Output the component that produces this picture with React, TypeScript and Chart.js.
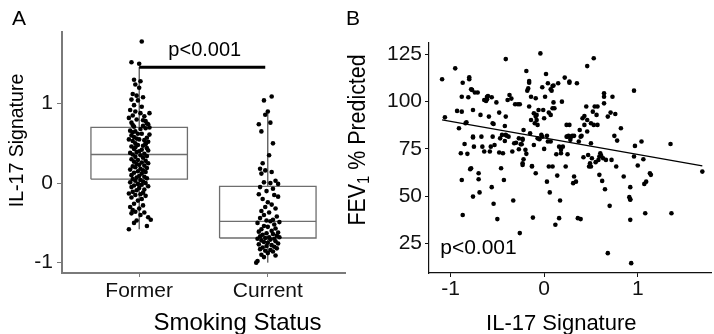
import React, { useEffect, useRef } from "react";
import { Chart, registerables } from "chart.js";

Chart.register(...registerables);

const FONT = '"Liberation Sans", Arial, Helvetica, sans-serif';

// ---------------- Panel A: IL-17 signature by smoking status ----------------
const categories = ["Former", "Current"];
const whiskerLow = [-0.58, -1.0];
const quartile1 = [0.05, -0.69];
const medians = [0.36, -0.48];
const quartile3 = [0.7, -0.04];
const whiskerHigh = [1.46, 0.9];
const boxHalfWidth = 0.375;

// [jitter offset, IL-17 signature]
const formerJitter: [number, number][] = [
  [0.02, 1.78], [-0.06, 1.52], [0.0, 1.5],
  [-0.04, 1.3], [0.01, 1.28], [-0.03, 1.24], [0.0, 1.2],
  [-0.05, 1.12], [-0.02, 1.1], [0.03, 1.08], [-0.06, 1.05], [-0.01, 1.04],
  [-0.04, 0.98], [0.02, 0.96], [-0.07, 0.92], [-0.03, 0.9], [0.01, 0.88], [-0.05, 0.85], [0.04, 0.84],
  [-0.02, 0.8], [0.05, 0.78], [-0.06, 0.76], [0.06, 0.75], [0.07, 0.74], [0.03, 0.72], [-0.04, 0.71], [0.08, 0.7], [0.05, 0.69],
  [-0.07, 0.66], [-0.03, 0.65], [-0.05, 0.64], [-0.01, 0.62], [0.02, 0.62], [-0.06, 0.6], [-0.04, 0.58], [0.06, 0.57], [-0.02, 0.56], [0.0, 0.55],
  [0.04, 0.54], [-0.05, 0.53], [0.07, 0.52], [-0.03, 0.5], [0.05, 0.5], [-0.01, 0.48], [0.03, 0.47], [-0.06, 0.46], [0.06, 0.44], [-0.04, 0.43], [0.02, 0.42],
  [0.0, 0.4], [-0.02, 0.39], [-0.07, 0.38], [0.04, 0.37], [-0.05, 0.36], [0.01, 0.35], [0.06, 0.34], [-0.03, 0.33], [0.03, 0.32],
  [-0.06, 0.3], [-0.01, 0.29], [0.05, 0.28], [-0.04, 0.27], [0.02, 0.26], [0.07, 0.25], [-0.02, 0.24], [0.0, 0.23], [0.04, 0.22], [-0.05, 0.21],
  [-0.03, 0.2], [0.06, 0.19], [0.01, 0.18], [-0.07, 0.17], [0.03, 0.16], [-0.01, 0.15], [0.05, 0.14], [-0.04, 0.13], [0.02, 0.12],
  [-0.06, 0.1], [0.0, 0.09], [0.04, 0.08], [-0.02, 0.07], [0.06, 0.06], [-0.05, 0.05], [0.01, 0.04], [-0.03, 0.03], [0.03, 0.02], [-0.07, 0.01],
  [0.05, 0.0], [-0.01, -0.01], [0.02, -0.02], [-0.04, -0.03], [0.07, -0.04], [-0.06, -0.05], [0.0, -0.06], [0.04, -0.08], [-0.02, -0.09],
  [-0.05, -0.11], [0.03, -0.12], [-0.08, -0.13], [0.01, -0.14], [-0.03, -0.15], [0.05, -0.16], [-0.06, -0.18], [0.02, -0.2], [-0.01, -0.22],
  [-0.04, -0.26], [0.03, -0.28], [-0.07, -0.3], [0.0, -0.32], [-0.05, -0.34], [-0.03, -0.36], [0.04, -0.37], [-0.06, -0.38], [0.01, -0.4],
  [0.07, -0.43], [0.09, -0.46], [-0.02, -0.47], [-0.04, -0.5], [0.06, -0.54], [-0.08, -0.58],
  [0.08, 0.88], [-0.08, 0.82], [0.03, 0.79], [-0.05, 0.73], [0.01, 0.68], [0.08, 0.61], [-0.08, 0.55], [0.05, 0.49], [-0.03, 0.45], [0.07, 0.41],
];

const currentJitter: [number, number][] = [
  [0.03, 1.09], [-0.03, 1.04], [0.0, 0.9], [-0.02, 0.86], [0.02, 0.76], [-0.07, 0.74], [-0.05, 0.65], [0.04, 0.5], [0.01, 0.35],
  [-0.04, 0.25], [-0.06, 0.18], [-0.02, 0.16], [0.03, 0.14], [-0.05, 0.12], [0.06, 0.03], [-0.03, 0.01], [0.02, 0.0], [0.08, -0.01],
  [-0.06, -0.05], [0.04, -0.07], [-0.01, -0.1], [-0.07, -0.14], [0.05, -0.15], [0.08, -0.17], [-0.04, -0.2], [0.0, -0.24], [0.03, -0.27],
  [-0.02, -0.3], [0.06, -0.32], [-0.05, -0.35], [0.01, -0.37], [-0.03, -0.4], [0.07, -0.42], [-0.06, -0.44], [0.04, -0.46], [-0.01, -0.47], [0.02, -0.48], [0.09, -0.49], [-0.08, -0.5],
  [0.05, -0.52], [-0.03, -0.54], [0.0, -0.55], [0.06, -0.57], [-0.05, -0.58], [0.03, -0.6], [-0.07, -0.61], [0.08, -0.62], [-0.01, -0.63], [0.04, -0.64],
  [-0.04, -0.65], [0.07, -0.66], [-0.06, -0.67], [0.01, -0.68], [0.09, -0.68], [-0.02, -0.69], [0.05, -0.7], [-0.08, -0.7], [0.02, -0.71], [-0.05, -0.72],
  [0.06, -0.73], [-0.03, -0.74], [0.0, -0.75], [0.08, -0.76], [-0.07, -0.77], [0.03, -0.78], [-0.01, -0.79], [0.05, -0.8], [-0.04, -0.81], [0.07, -0.82],
  [-0.06, -0.83], [0.02, -0.84], [-0.02, -0.85], [0.04, -0.86], [0.0, -0.88], [-0.05, -0.9], [0.06, -0.91], [-0.03, -0.93], [-0.08, -0.98], [-0.09, -1.0],
];

const sigBarY = 1.457;
const sigBarFrom = 1;
const sigBarTo = 1.98;
const pValueText = "p<0.001";
const pValueAX = 1.51;
const pValueAY = 1.6;
const aYTicks = [-1, 0, 1];
const aXTicks = [1, 2];
const aYMin = -1.13;
const aYMax = 1.9;
const aXMin = 0.4;
const aXMax = 2.6;
const aXTitle = "Smoking Status";
const aYTitle = "IL-17 Signature";

// ---------------- Panel B: FEV1 vs IL-17 signature ----------------
// [IL-17 signature, FEV1 % predicted]
const fevPoints: [number, number][] = [
  [-1.09, 111.8], [-1.06, 91.7], [-0.95, 117.6], [-0.93, 95.1], [-0.91, 85.9], [-0.88, 94.7], [-0.89, 72.7], [-0.88, 102.6],
  [-0.87, 110.0], [-0.88, 58.6], [-0.87, 40.1], [-0.85, 77.6], [-0.84, 88.6], [-0.83, 89.1], [-0.82, 72.4], [-0.81, 102.3],
  [-0.8, 111.8], [-0.8, 112.9], [-0.79, 64.3], [-0.78, 64.8], [-0.78, 106.5], [-0.77, 106.2], [-0.76, 95.6], [-0.76, 81.0],
  [-0.76, 81.5], [-0.75, 76.2], [-0.74, 104.8], [-0.71, 104.8], [-0.7, 62.1], [-0.7, 59.0], [-0.76, 49.8], [-0.69, 52.0],
  [-0.68, 93.0], [-0.67, 81.5], [-0.66, 76.2], [-0.64, 73.6], [-0.64, 100.9], [-0.63, 100.9], [-0.62, 100.4], [-0.61, 101.2],
  [-0.61, 102.6], [-0.6, 103.0], [-0.59, 92.1], [-0.58, 73.6], [-0.57, 76.2], [-0.56, 102.3], [-0.56, 54.8], [-0.55, 81.5],
  [-0.55, 88.6], [-0.54, 88.2], [-0.54, 46.0], [-0.53, 77.1], [-0.51, 99.6], [-0.5, 37.9], [-0.48, 73.1], [-0.48, 94.2],
  [-0.47, 80.6], [-0.46, 64.8], [-0.45, 82.4], [-0.44, 72.7], [-0.43, 58.6], [-0.42, 79.2], [-0.42, 87.1], [-0.41, 92.1],
  [-0.41, 122.5], [-0.41, 82.4], [-0.4, 82.0], [-0.39, 100.9], [-0.38, 81.5], [-0.37, 103.5], [-0.35, 101.6], [-0.34, 73.6],
  [-0.33, 47.7], [-0.32, 78.0], [-0.31, 98.6], [-0.3, 78.3], [-0.28, 98.6], [-0.27, 74.8], [-0.27, 80.6], [-0.26, 98.6],
  [-0.26, 30.5], [-0.25, 77.5], [-0.24, 77.5], [-0.23, 80.3], [-0.23, 67.4], [-0.23, 66.5], [-0.23, 79.8], [-0.22, 69.5],
  [-0.22, 85.0], [-0.2, 74.5], [-0.19, 72.4], [-0.19, 116.2], [-0.18, 105.8], [-0.17, 107.0], [-0.16, 110.9], [-0.16, 110.0],
  [-0.16, 97.4], [-0.15, 83.3], [-0.14, 90.3], [-0.14, 102.6], [-0.13, 65.7], [-0.13, 66.0], [-0.12, 38.7], [-0.11, 93.8],
  [-0.11, 77.1], [-0.1, 88.6], [-0.09, 92.1], [-0.09, 101.8], [-0.09, 62.1], [-0.08, 93.0], [-0.08, 90.3], [-0.07, 87.7],
  [-0.07, 80.6], [-0.06, 95.6], [-0.05, 80.1], [-0.04, 125.5], [-0.03, 82.4], [-0.02, 107.6], [-0.02, 81.5], [-0.01, 95.6],
  [0.0, 75.0], [0.0, 91.2], [0.01, 102.6], [0.02, 114.6], [0.03, 57.7], [0.03, 81.9], [0.04, 109.7], [0.04, 78.9],
  [0.05, 94.2], [0.05, 65.7], [0.06, 52.0], [0.07, 78.9], [0.07, 93.0], [0.07, 106.5], [0.08, 105.8], [0.09, 108.3],
  [0.09, 65.7], [0.09, 96.5], [0.1, 108.5], [0.1, 99.6], [0.11, 96.5], [0.12, 34.9], [0.13, 72.2], [0.14, 60.9],
  [0.15, 109.7], [0.16, 76.2], [0.16, 38.4], [0.17, 47.7], [0.18, 74.5], [0.18, 72.7], [0.19, 100.0], [0.2, 76.2],
  [0.22, 112.7], [0.23, 65.7], [0.24, 81.5], [0.24, 87.7], [0.25, 72.2], [0.25, 81.5], [0.26, 81.9], [0.27, 110.6],
  [0.27, 110.0], [0.27, 87.7], [0.28, 79.8], [0.29, 81.5], [0.3, 81.9], [0.31, 56.9], [0.32, 81.9], [0.32, 60.4],
  [0.34, 57.7], [0.35, 109.7], [0.36, 38.4], [0.37, 78.9], [0.38, 85.0], [0.39, 37.9], [0.39, 81.5], [0.4, 81.9],
  [0.41, 91.2], [0.42, 70.6], [0.43, 87.7], [0.43, 92.4], [0.45, 97.4], [0.46, 118.8], [0.46, 84.2], [0.46, 90.3],
  [0.47, 71.8], [0.48, 65.7], [0.49, 67.4], [0.5, 65.7], [0.5, 78.0], [0.5, 88.6], [0.51, 70.1], [0.52, 94.7],
  [0.53, 87.7], [0.53, 122.9], [0.54, 97.4], [0.55, 68.0], [0.56, 93.0], [0.57, 87.7], [0.57, 97.4], [0.58, 69.2],
  [0.59, 71.0], [0.59, 61.3], [0.6, 72.7], [0.61, 71.3], [0.62, 58.1], [0.63, 70.1], [0.64, 104.4], [0.64, 99.1],
  [0.64, 102.6], [0.65, 53.7], [0.66, 69.2], [0.68, 92.1], [0.68, 19.9], [0.7, 44.9], [0.71, 94.2], [0.72, 69.2],
  [0.73, 102.6], [0.75, 81.9], [0.76, 93.5], [0.77, 65.7], [0.78, 79.4], [0.82, 85.9], [0.85, 60.4], [0.92, 54.8],
  [0.91, 49.5], [0.92, 48.4], [0.92, 48.1], [0.92, 37.5], [0.93, 14.6], [0.96, 105.8], [0.96, 71.0], [0.97, 76.6],
  [1.0, 66.2], [1.04, 78.9], [1.06, 69.5], [1.07, 56.5], [1.08, 41.0], [1.09, 57.7], [1.13, 62.1], [1.14, 61.3],
  [1.35, 77.6], [1.36, 41.0], [1.69, 63.0],
];
const trendX = [-1.09, 1.69];
const trendY = [90.3, 66.0];
const bXTicks = [-1, 0, 1];
const bYTicks = [25, 50, 75, 100, 125];
const bXMin = -1.23;
const bXMax = 1.79;
const bYMin = 9.4;
const bYMax = 131;
const pValueBX = -1.11;
const pValueBY = 19.5;
const bXTitle = "IL-17 Signature";
const bYTitleMain = "FEV";
const bYTitleSub = "1";
const bYTitleRest = " % Predicted";
const panelLabels = ["A", "B"];

type ScaleOpts = {
  min: number;
  max: number;
  ticks: number[];
  width?: number;
  height?: number;
  lineColor: string;
  lineWidth: number;
  tickLen: number;
  pad: number;
  size: number;
  labels?: string[];
};

function makeScale(o: ScaleOpts): any {
  return {
    type: "linear",
    min: o.min,
    max: o.max,
    afterBuildTicks: (s: any) => {
      s.ticks = o.ticks.map((v) => ({ value: v }));
    },
    afterFit: (s: any) => {
      if (o.width != null) s.width = o.width;
      if (o.height != null) s.height = o.height;
    },
    grid: {
      display: true,
      drawOnChartArea: false,
      drawTicks: true,
      tickLength: o.tickLen,
      color: o.lineColor,
      tickColor: o.lineColor,
      lineWidth: 1,
    },
    border: { display: true, color: o.lineColor, width: o.lineWidth },
    ticks: {
      autoSkip: false,
      maxRotation: 0,
      minRotation: 0,
      padding: o.pad,
      color: "#111",
      font: { family: FONT, size: o.size },
      callback: (v: number) => (o.labels ? o.labels[Math.round(v) - 1] : String(v)),
    },
    title: { display: false },
  };
}

const lineDs = (pts: { x: number; y: number }[], color: string, width: number, order: number) => ({
  type: "scatter" as const,
  data: pts,
  showLine: true,
  borderColor: color,
  borderWidth: width,
  pointRadius: 0,
  pointHoverRadius: 0,
  tension: 0,
  fill: false,
  order,
});

function buildPanelA(canvas: HTMLCanvasElement) {
  const pts = [
    ...formerJitter.map(([dx, v]) => ({ x: 1 + dx, y: v })),
    ...currentJitter.map(([dx, v]) => ({ x: 2 + dx, y: v })),
  ];
  const boxSets: any[] = [];
  categories.forEach((_, i) => {
    const c = i + 1;
    const l = c - boxHalfWidth;
    const r = c + boxHalfWidth;
    boxSets.push(
      lineDs(
        [
          { x: l, y: quartile1[i] },
          { x: r, y: quartile1[i] },
          { x: r, y: quartile3[i] },
          { x: l, y: quartile3[i] },
          { x: l, y: quartile1[i] },
        ],
        "#6e6e6e",
        1.3,
        3
      )
    );
    boxSets.push(lineDs([{ x: l, y: medians[i] }, { x: r, y: medians[i] }], "#6e6e6e", 1.3, 3));
    boxSets.push(lineDs([{ x: c, y: whiskerLow[i] }, { x: c, y: quartile1[i] }], "#222", 1, 3));
    boxSets.push(lineDs([{ x: c, y: quartile3[i] }, { x: c, y: whiskerHigh[i] }], "#222", 1, 3));
  });

  const textPlugin = {
    id: "panelAText",
    afterDraw(chart: any) {
      const { ctx, chartArea: ca, scales } = chart;
      ctx.save();
      ctx.fillStyle = "#000";
      ctx.textBaseline = "alphabetic";
      ctx.textAlign = "left";
      ctx.font = `21px ${FONT}`;
      ctx.fillText(panelLabels[0], 12, 25);
      ctx.textAlign = "center";
      ctx.font = `20px ${FONT}`;
      ctx.fillText(pValueText, scales.x.getPixelForValue(pValueAX), scales.y.getPixelForValue(pValueAY));
      ctx.font = `24px ${FONT}`;
      ctx.fillText(aXTitle, ca.left + (ca.right - ca.left) * 0.62, ca.bottom + 57);
      ctx.translate(ca.left - 45, (ca.top + ca.bottom) / 2 - 12);
      ctx.rotate(-Math.PI / 2);
      ctx.scale(0.93, 1);
      ctx.textBaseline = "middle";
      ctx.font = `21px ${FONT}`;
      ctx.fillText(aYTitle, 0, 0);
      ctx.restore();
    },
  };

  return new Chart(canvas, {
    type: "scatter",
    data: {
      datasets: [
        {
          type: "scatter",
          data: pts,
          backgroundColor: "#000",
          borderWidth: 0,
          pointRadius: 2.3,
          pointHoverRadius: 2.3,
          order: 0,
        } as any,
        lineDs(
          [
            { x: sigBarFrom, y: sigBarY },
            { x: sigBarTo, y: sigBarY },
          ],
          "#000",
          3,
          1
        ),
        ...boxSets,
      ],
    },
    options: {
      responsive: false,
      maintainAspectRatio: false,
      animation: false,
      events: [],
      layout: { padding: { top: 32, right: 12, left: 0, bottom: 0 } },
      plugins: { legend: { display: false }, tooltip: { enabled: false } },
      scales: {
        x: makeScale({
          min: aXMin,
          max: aXMax,
          ticks: aXTicks,
          height: 61,
          lineColor: "#7a7a7a",
          lineWidth: 2,
          tickLen: 4,
          pad: 2,
          size: 21,
          labels: categories,
        }),
        y: makeScale({
          min: aYMin,
          max: aYMax,
          ticks: aYTicks,
          width: 62,
          lineColor: "#7a7a7a",
          lineWidth: 2,
          tickLen: 5,
          pad: 4,
          size: 21,
        }),
      },
    },
    plugins: [textPlugin],
  } as any);
}

function buildPanelB(canvas: HTMLCanvasElement) {
  const pts = fevPoints.map(([x, y]) => ({ x, y }));
  const textPlugin = {
    id: "panelBText",
    afterDraw(chart: any) {
      const { ctx, chartArea: ca, scales } = chart;
      ctx.save();
      ctx.fillStyle = "#000";
      ctx.textBaseline = "alphabetic";
      ctx.textAlign = "left";
      ctx.font = `21px ${FONT}`;
      ctx.fillText(panelLabels[1], 6, 25);
      ctx.fillText(pValueText, scales.x.getPixelForValue(pValueBX), scales.y.getPixelForValue(pValueBY));
      ctx.textAlign = "center";
      ctx.font = `22px ${FONT}`;
      ctx.fillText(bXTitle, ca.left + (ca.right - ca.left) * 0.468, ca.bottom + 57);
      // y title with subscript
      ctx.translate(ca.left - 70, (ca.top + ca.bottom) / 2 - 18);
      ctx.rotate(-Math.PI / 2);
      ctx.scale(0.93, 1);
      ctx.textAlign = "left";
      ctx.textBaseline = "middle";
      const big = `23px ${FONT}`;
      const small = `16px ${FONT}`;
      ctx.font = big;
      const w1 = ctx.measureText(bYTitleMain).width;
      const w3 = ctx.measureText(bYTitleRest).width;
      ctx.font = small;
      const w2 = ctx.measureText(bYTitleSub).width;
      let x0 = -(w1 + w2 + w3) / 2;
      ctx.font = big;
      ctx.fillText(bYTitleMain, x0, 0);
      x0 += w1;
      ctx.font = small;
      ctx.fillText(bYTitleSub, x0, 6);
      x0 += w2;
      ctx.font = big;
      ctx.fillText(bYTitleRest, x0, 0);
      ctx.restore();
    },
  };

  return new Chart(canvas, {
    type: "scatter",
    data: {
      datasets: [
        {
          type: "scatter",
          data: pts,
          backgroundColor: "#000",
          borderWidth: 0,
          pointRadius: 2.3,
          pointHoverRadius: 2.3,
          order: 0,
        } as any,
        lineDs(
          [
            { x: trendX[0], y: trendY[0] },
            { x: trendX[1], y: trendY[1] },
          ],
          "#000",
          1.3,
          1
        ),
      ],
    },
    options: {
      responsive: false,
      maintainAspectRatio: false,
      animation: false,
      events: [],
      layout: { padding: { top: 43, right: 0, left: 0, bottom: 0 } },
      plugins: { legend: { display: false }, tooltip: { enabled: false } },
      scales: {
        x: makeScale({
          min: bXMin,
          max: bXMax,
          ticks: bXTicks,
          height: 61,
          lineColor: "#111",
          lineWidth: 1.2,
          tickLen: 4,
          pad: 0,
          size: 21,
        }),
        y: makeScale({
          min: bYMin,
          max: bYMax,
          ticks: bYTicks,
          width: 89,
          lineColor: "#111",
          lineWidth: 1.2,
          tickLen: 4,
          pad: 3,
          size: 21,
        }),
      },
    },
    plugins: [textPlugin],
  } as any);
}

export default function App() {
  const refA = useRef<HTMLCanvasElement | null>(null);
  const refB = useRef<HTMLCanvasElement | null>(null);

  useEffect(() => {
    const a = refA.current ? buildPanelA(refA.current) : null;
    const b = refB.current ? buildPanelB(refB.current) : null;
    return () => {
      a?.destroy();
      b?.destroy();
    };
  }, []);

  return (
    <div style={{ position: "absolute", left: 0, top: 0, width: 714, height: 334, background: "#fff", overflow: "hidden" }}>
      <canvas ref={refA} width={357} height={334} style={{ position: "absolute", left: 0, top: 0 }} />
      <canvas ref={refB} width={374} height={334} style={{ position: "absolute", left: 340, top: 0 }} />
    </div>
  );
}
